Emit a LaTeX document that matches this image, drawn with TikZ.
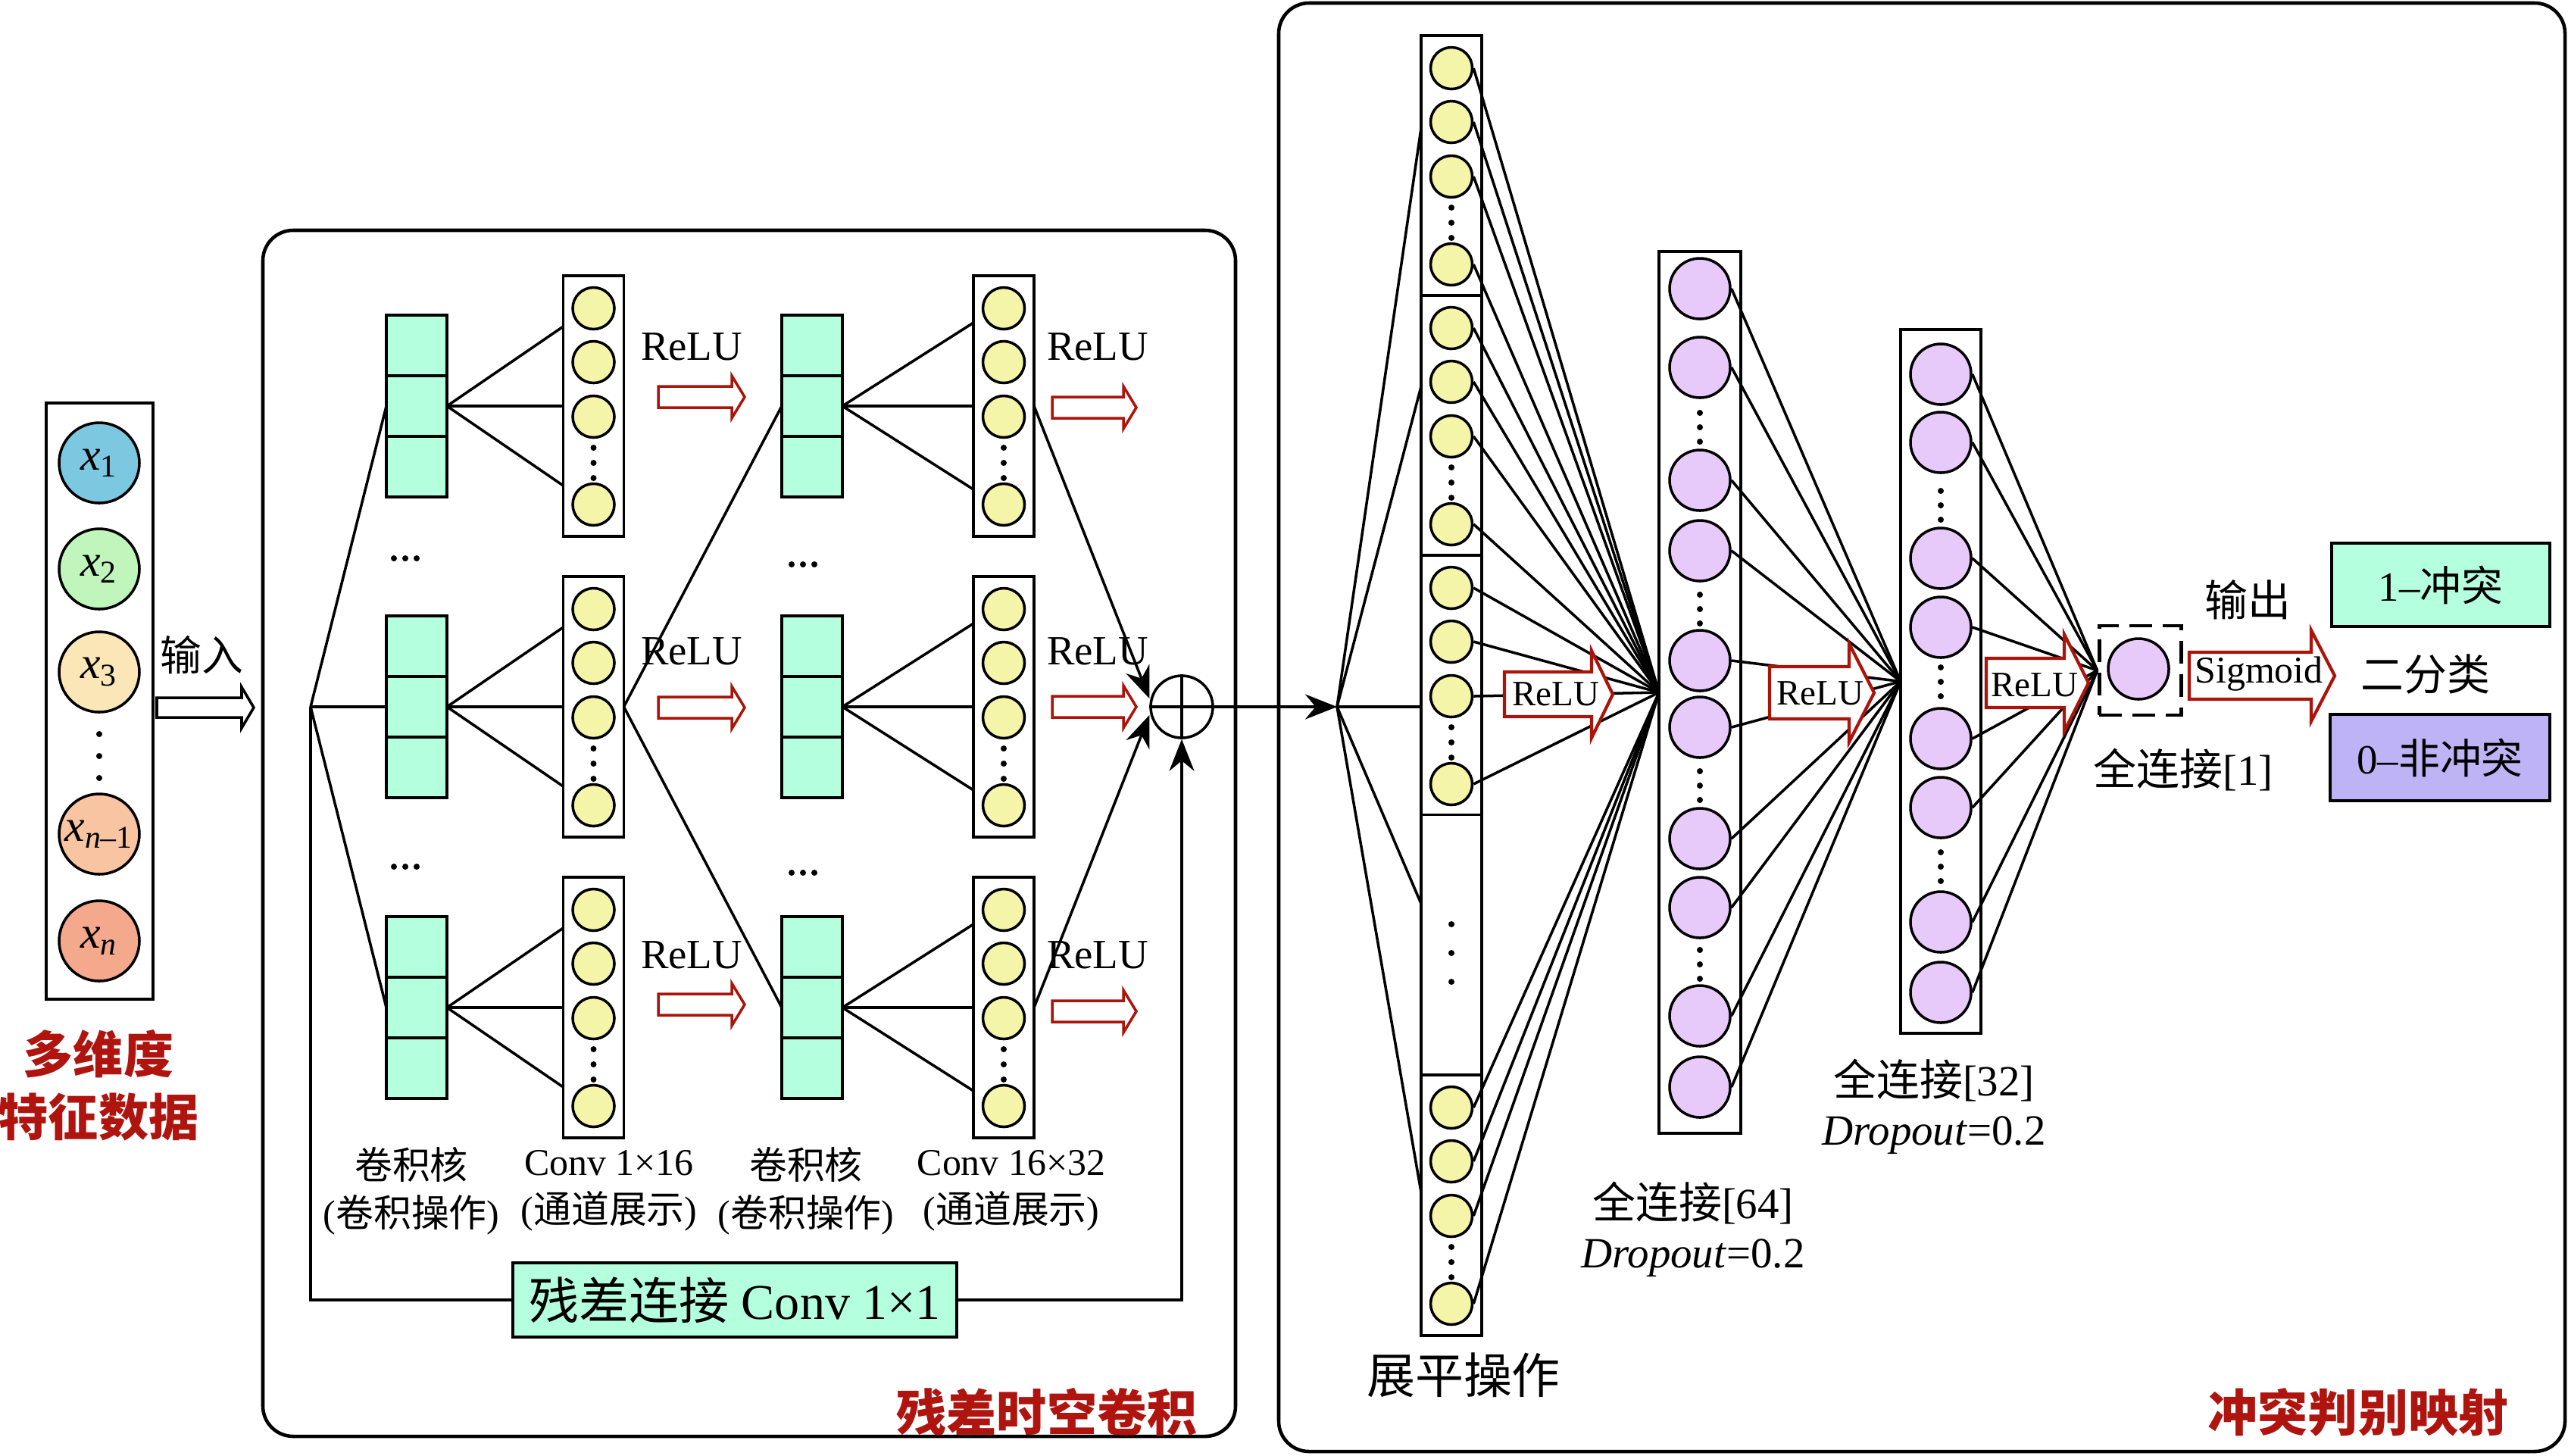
\documentclass[tikz,border=0pt]{standalone}
\usepackage{fontspec}
\setmainfont{Liberation Serif}
\newfontfamily\cjk{Noto Sans CJK SC}
\usepackage{tikz}
\usetikzlibrary{arrows.meta}
\usetikzlibrary{positioning}

\definecolor{kteal}{RGB}{180,255,222}
\definecolor{cyell}{RGB}{245,245,170}
\definecolor{cpurp}{RGB}{232,202,250}
\definecolor{lav}{RGB}{190,180,245}
\definecolor{arred}{RGB}{170,20,10}
\definecolor{titred}{RGB}{175,20,15}
\definecolor{xone}{RGB}{125,200,225}
\definecolor{xtwo}{RGB}{192,246,188}
\definecolor{xthree}{RGB}{250,230,182}
\definecolor{xnm}{RGB}{248,196,162}
\definecolor{xlast}{RGB}{244,168,140}

\tikzset{
  panel/.style={draw, line width=1.3pt, rounded corners=0.4cm, inner sep=0},
  kcell/.style={draw, fill=kteal, minimum size=0.8cm, inner sep=0, outer sep=0},
  colbox/.style={draw, fill=white, minimum width=0.8cm, minimum height=3.44cm, inner sep=0, outer sep=0},
  ycirc/.style={circle, draw, fill=cyell, minimum size=0.55cm, inner sep=0},
  pcirc/.style={circle, draw, fill=cpurp, minimum size=0.8cm, inner sep=0},
  xcirc/.style={circle, draw, minimum size=1.06cm, inner sep=0, font=\fontsize{17}{17}\selectfont},
  relu/.style={font=\fontsize{15.6}{18}\selectfont},
  lbl/.style={align=center, font=\fontsize{14.2}{17.9}\selectfont},
  fclbl/.style={align=center, font=\fontsize{16.2}{18.5}\selectfont},
  redtitle/.style={align=center, text=titred, font=\fontsize{18.8}{23.6}\selectfont\cjk\bfseries},
  redarr/.style={draw=arred, fill=white, line width=1pt},
  arr/.style={-{Stealth[length=0.42cm,width=0.33cm]}},
}

% hollow block arrow: style, x start, y centre, x head base, x tip, shaft half, head half
\newcommand{\blockarr}[7]{%
  \draw[#1] (#2,{#3-#6}) -- (#4,{#3-#6}) -- (#4,{#3-#7}) -- (#5,#3)
    -- (#4,{#3+#7}) -- (#4,{#3+#6}) -- (#2,{#3+#6}) -- cycle;
}
% kernel of three cells: name, x, y of middle cell
\newcommand{\kernbox}[3]{%
  \node[kcell] (#1) at (#2,#3) {};
  \node[kcell, above=0pt of #1] (#1-t) {};
  \node[kcell, below=0pt of #1] (#1-b) {};
}
% column of circles: name, x, top y
\newcommand{\chcol}[3]{%
  \node[colbox] (#1) at (#2,{#3+1.72}) {};
  \foreach \k/\dy in {1/0.43,2/1.14,3/1.86,4/3.02}
    \node[ycirc] (#1-\k) at (#2,{#3+\dy}) {};
  \foreach \dy in {2.27,2.47,2.67}
    \fill (#2,{#3+\dy}) circle (0.4mm);
}

\begin{document}
\begin{tikzpicture}[x=1cm, y=-1cm, line width=1pt]
  \useasboundingbox (0,0) rectangle (33.90,19.21);

  % Input features
  \node[draw, minimum width=1.41cm, minimum height=7.87cm, inner sep=0] (inbox) at (1.315,9.255) {};
  \node[xcirc, fill=xone] (x1) at (1.31,6.11) {\textit{x}\textsubscript{1}};
  \node[xcirc, fill=xtwo] (x2) at (1.31,7.51) {\textit{x}\textsubscript{2}};
  \node[xcirc, fill=xthree] (x3) at (1.31,8.87) {\textit{x}\textsubscript{3}};
  \node[xcirc, fill=xnm] (xnm) at (1.31,11.01) {\textit{x}\textsubscript{\textit{n}–1}};
  \node[xcirc, fill=xlast] (xn) at (1.31,12.42) {\textit{x}\textsubscript{\textit{n}}};
  \foreach \yy in {9.69,9.98,10.27}
    \fill (1.31,\yy) circle (0.4mm);
  \node[redtitle] (intitle) at (1.30,14.33) {多维度\\特征数据};
  \node[font=\fontsize{15.6}{18}\selectfont\cjk] (inlbl) at (2.66,8.65) {输入};
  \blockarr{draw=black}{2.07}{9.34}{3.19}{3.35}{0.13}{0.27}

  % Panels
  \node[panel, minimum width=12.84cm, minimum height=15.92cm] (convpanel) at (9.89,11.00) {};
  \node[panel, minimum width=16.98cm, minimum height=19.12cm] (fcpanel) at (25.37,9.60) {};
  \node[redtitle] (convtitle) at (13.82,18.64) {残差时空卷积};
  \node[redtitle] (fctitle) at (31.13,18.64) {冲突判别映射};

  % Residual convolution block
  \coordinate (lbr) at (4.10,9.33);
  \node[circle, draw, minimum size=0.82cm, inner sep=0] (plus) at (15.60,9.33) {};
  \draw (plus.north) -- (plus.south) (plus.west) -- (plus.east);
  \foreach \r/\yy in {1/5.36,2/9.33,3/13.30} {
    \kernbox{ka\r}{5.50}{\yy}
    \kernbox{kb\r}{10.72}{\yy}
    \chcol{ca\r}{7.835}{\yy-1.72}
    \chcol{cb\r}{13.25}{\yy-1.72}
    \draw (lbr) -- (ka\r.west);
    \draw (ka\r.east) -- ([yshift=1.05cm]ca\r.west);
    \draw (ka\r.east) -- (ca\r.west);
    \draw (ka\r.east) -- ([yshift=-1.05cm]ca\r.west);
    \draw (kb\r.east) -- ([yshift=1.1cm]cb\r.west);
    \draw (kb\r.east) -- (cb\r.west);
    \draw (kb\r.east) -- ([yshift=-1.1cm]cb\r.west);
  }
  \draw (ca2.east) -- (kb1.west);
  \draw (ca2.east) -- (kb3.west);
  \draw[arr] (cb1.east) -- ([yshift=0.11cm]plus.west);
  \draw[arr] (cb3.east) -- ([yshift=-0.11cm]plus.west);
  \foreach \xx/\yy in {5.35/7.37,5.35/11.44,10.60/7.45,10.60/11.52}
    \foreach \d in {-0.15,0,0.15}
      \fill ({\xx+\d},\yy) circle (0.4mm);

  % ReLU between layers
  \foreach \yy/\ay/\by in {4.58/5.24/5.38,8.60/9.34/9.33,12.61/13.26/13.35} {
    \node[relu] at (9.13,\yy) {ReLU};
    \node[relu] at (14.49,\yy) {ReLU};
    \blockarr{redarr}{8.69}{\ay}{9.66}{9.83}{0.14}{0.28}
    \blockarr{redarr}{13.89}{\by}{14.83}{15.00}{0.14}{0.28}
  }

  % Layer names
  \node[lbl] (lka) at (5.43,15.72) {{\cjk 卷积核}\\({\cjk 卷积操作})};
  \node[lbl] (lca) at (8.04,15.72) {Conv 1×16\\({\cjk 通道展示})};
  \node[lbl] (lkb) at (10.64,15.72) {{\cjk 卷积核}\\({\cjk 卷积操作})};
  \node[lbl] (lcb) at (13.35,15.72) {Conv 16×32\\({\cjk 通道展示})};

  % Residual connection
  \node[draw, fill=kteal, minimum width=5.86cm, minimum height=0.98cm, inner sep=0,
        font=\fontsize{18.8}{20}\selectfont] (res) at (9.70,17.16) {{\cjk 残差连接} Conv 1×1};
  \draw (lbr) -- (lbr |- res.west) -- (res.west);
  \draw[arr] (res.east) -- (plus |- res.east) -- (plus.south);

  % Flatten
  \coordinate (rbr) at (17.65,9.33);
  \draw[arr] (plus.east) -- (rbr);
  \chcol{fs1}{19.16}{0.47}
  \chcol{fs2}{19.16}{3.90}
  \chcol{fs3}{19.16}{7.33}
  \node[colbox] (fs4) at (19.16,12.475) {};
  \foreach \yy in {12.20,12.58,12.96}
    \fill (19.16,\yy) circle (0.4mm);
  \chcol{fs5}{19.16}{14.19}
  \draw (rbr) -- ([yshift=0.50cm]fs1.west);
  \draw (rbr) -- ([yshift=0.52cm]fs2.west);
  \draw (rbr) -- ([yshift=-0.28cm]fs3.west);
  \draw (rbr) -- ([yshift=0.545cm]fs4.west);
  \draw (rbr) -- ([yshift=0.17cm]fs5.west);

  % Dense layers
  \node[draw, minimum width=1.08cm, minimum height=11.64cm, inner sep=0, outer sep=0] (h64) at (22.44,9.14) {};
  \foreach \k/\yy in {1/3.81,2/4.85,3/6.34,4/7.27,5/8.72,6/9.60,7/11.07,8/11.98,9/13.41,10/14.35}
    \node[pcirc] (h64-\k) at (22.44,\yy) {};
  \foreach \yy in {5.64,8.04,10.37,12.73}
    \foreach \d in {-0.19,0,0.19}
      \fill (22.44,{\yy+\d}) circle (0.4mm);
  \node[draw, minimum width=1.06cm, minimum height=9.29cm, inner sep=0, outer sep=0] (h32) at (25.62,8.995) {};
  \foreach \k/\yy in {1/4.94,2/5.84,3/7.37,4/8.28,5/9.75,6/10.66,7/12.17,8/13.10}
    \node[pcirc] (h32-\k) at (25.62,\yy) {};
  \foreach \yy in {6.67,9.00,11.44}
    \foreach \d in {-0.19,0,0.19}
      \fill (25.62,{\yy+\d}) circle (0.4mm);
  \node[draw, line width=1.4pt, dash pattern=on 0.3cm off 0.14cm, minimum width=1.08cm,
        minimum height=1.18cm, inner sep=0] (outbox) at (28.25,8.85) {};
  \node[pcirc] (out) at (28.23,8.83) {};

  % Full connections
  \foreach \s in {1,2,3,5}
    \foreach \k in {1,...,4}
      \draw (fs\s-\k.east) -- (h64.west);
  \foreach \k in {1,...,10}
    \draw (h64-\k.east) -- (h32.west);
  \foreach \k in {1,...,8}
    \draw (h32-\k.east) -- (outbox.west);

  % Activations
  \blockarr{redarr, line width=1.2pt}{19.86}{9.165}{21.01}{21.29}{0.295}{0.575}
  \node[font=\fontsize{13.4}{14}\selectfont] (ra1) at (20.54,9.16) {ReLU};
  \blockarr{redarr, line width=1.2pt}{23.36}{9.145}{24.41}{24.74}{0.345}{0.65}
  \node[font=\fontsize{13.4}{14}\selectfont] (ra2) at (24.03,9.15) {ReLU};
  \blockarr{redarr, line width=1.2pt}{26.22}{9.015}{27.25}{27.57}{0.325}{0.64}
  \node[font=\fontsize{13.4}{14}\selectfont] (ra3) at (26.86,9.04) {ReLU};
  \blockarr{redarr, line width=1.2pt}{28.90}{8.92}{30.51}{30.82}{0.31}{0.60}
  \node[font=\fontsize{14.2}{15}\selectfont] (sig) at (29.82,8.90) {Sigmoid};

  % Labels
  \node[font=\fontsize{18.2}{20}\selectfont\cjk] (flatlbl) at (19.32,18.15) {展平操作};
  \node[fclbl] (l64) at (22.35,16.23) {{\cjk 全连接}[64]\\\textit{Dropout}=0.2};
  \node[fclbl] (l32) at (25.53,14.61) {{\cjk 全连接}[32]\\\textit{Dropout}=0.2};
  \node[fclbl] (l1) at (28.82,10.16) {{\cjk 全连接}[1]};
  \node[fclbl] (outlbl) at (29.67,7.92) {{\cjk 输出}};
  \node[fclbl] (cls) at (32.02,8.90) {{\cjk 二分类}};

  % Classes
  \node[draw, fill=kteal, minimum width=2.88cm, minimum height=1.10cm, inner sep=0,
        font=\fontsize{15.6}{18}\selectfont] (yes) at (32.22,7.72) {1–{\cjk 冲突}};
  \node[draw, fill=lav, minimum width=2.90cm, minimum height=1.14cm, inner sep=0,
        font=\fontsize{15.6}{18}\selectfont] (no) at (32.21,10.00) {0–{\cjk 非冲突}};
\end{tikzpicture}
\end{document}
